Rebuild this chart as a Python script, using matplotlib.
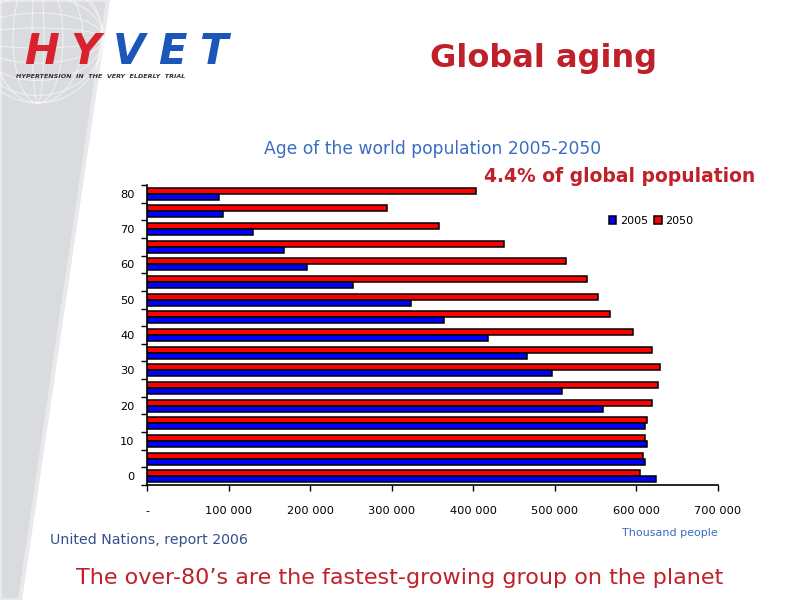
import numpy as np
import matplotlib.pyplot as plt
from matplotlib.patches import Polygon, Ellipse

# age groups 0-4 ... 80+, population in thousands
age_groups = ['0-4', '5-9', '10-14', '15-19', '20-24', '25-29', '30-34', '35-39',
              '40-44', '45-49', '50-54', '55-59', '60-64', '65-69', '70-74', '75-79', '80+']
pop_2005 = [624, 610, 613, 610, 559, 509, 496, 466, 418, 364, 324, 253, 196, 168, 130, 93, 88]
pop_2050 = [604, 608, 611, 613, 619, 627, 629, 619, 596, 568, 553, 540, 514, 438, 358, 294, 403]
ylabels = ['0', '10', '20', '30', '40', '50', '60', '70', '80']
xlabels = ['-', '100 000', '200 000', '300 000', '400 000', '500 000', '600 000', '700 000']

red_txt = '#c0202a'
blue_txt = '#3a6cc4'


def fx(px):
    return px / 800.0


def fy(py):
    return 1 - py / 600.0


fig = plt.figure(figsize=(8, 6), dpi=100)
fig.patch.set_facecolor('white')

# gray slanted strip on the left of the slide
strip = Polygon([(0, 1), (fx(108), 1), (fx(20), 0), (0, 0)], closed=True,
                transform=fig.transFigure, facecolor='#d9dbde', edgecolor='#e8e9eb',
                linewidth=3, zorder=0)
fig.patches.append(strip)

# faint globe behind the logo
for w in [130, 90, 50, 12]:
    e = Ellipse((fx(38), fy(38)), fx(w), 130 / 600.0, transform=fig.transFigure,
                fill=False, edgecolor='white', linewidth=0.8, alpha=0.55, zorder=1)
    fig.patches.append(e)
for hh in [20, 50, 85, 115]:
    e = Ellipse((fx(38), fy(38)), fx(130), hh / 600.0, transform=fig.transFigure,
                fill=False, edgecolor='white', linewidth=0.8, alpha=0.55, zorder=1)
    fig.patches.append(e)

# logo, letter by letter so it is about as wide as the original
logo_letters = ['H', 'Y', 'V', 'E', 'T']
logo_x = [42, 85, 129, 172, 214]
logo_col = ['#d8232f', '#d8232f', '#1c56b8', '#1c56b8', '#1c56b8']
for ch, px, c in zip(logo_letters, logo_x, logo_col):
    fig.text(fx(px), fy(52), ch, color=c, fontsize=30, fontweight='bold',
             style='italic', va='center', ha='center', zorder=3)
fig.text(fx(16), fy(77), 'HYPERTENSION  IN  THE  VERY  ELDERLY  TRIAL', color='#333333',
         fontsize=4.6, fontweight='bold', style='italic', va='center', ha='left', zorder=3)

# slide titles
fig.text(fx(544), fy(58), 'Global aging', color=red_txt, fontsize=23, fontweight='bold',
         ha='center', va='center')
fig.text(fx(433), fy(149), 'Age of the world population 2005-2050', color=blue_txt,
         fontsize=12.3, ha='center', va='center')
fig.text(fx(620), fy(177), '4.4% of global population', color=red_txt, fontsize=13.5,
         fontweight='bold', ha='center', va='center')
fig.text(fx(50), fy(540), 'United Nations, report 2006', color='#34508f', fontsize=10.2,
         ha='left', va='center')
fig.text(fx(718), fy(533), 'Thousand people', color=blue_txt, fontsize=8,
         ha='right', va='center')
fig.text(fx(400), fy(578), "The over-80\u2019s are the fastest-growing group on the planet",
         color=red_txt, fontsize=16, ha='center', va='center')

# chart
ax = fig.add_axes([fx(147), fy(485), (718 - 147) / 800.0, 300 / 600.0])
y = np.arange(len(age_groups))
h = 0.34
ax.barh(y + h / 2, np.array(pop_2050) * 1000, height=h, color='#ff0000',
        edgecolor='black', linewidth=1.1, label='2050')
ax.barh(y - h / 2, np.array(pop_2005) * 1000, height=h, color='#0000ff',
        edgecolor='black', linewidth=1.1, label='2005')

ax.set_xlim(0, 700000)
ax.set_ylim(-0.5, len(age_groups) - 0.5)
ax.set_xticks(np.arange(0, 700001, 100000))
ax.set_xticklabels(xlabels, fontsize=8.2)
ax.set_yticks(np.arange(-0.5, len(age_groups), 1.0))
ax.set_yticklabels([])
ax.set_yticks(np.arange(0, len(age_groups), 2), minor=True)
ax.set_yticklabels(ylabels, minor=True, fontsize=8.2)
ax.tick_params(axis='y', which='minor', length=0, pad=9)
ax.tick_params(axis='y', which='major', length=4, width=1)
ax.tick_params(axis='x', length=4, width=1, pad=11)
for s in ['top', 'right']:
    ax.spines[s].set_visible(False)
ax.spines['left'].set_linewidth(1.2)
ax.spines['bottom'].set_linewidth(1.2)

handles, labels = ax.get_legend_handles_labels()
leg = ax.legend(handles[::-1], labels[::-1], loc='upper right', ncol=2, frameon=False,
                fontsize=8, handlelength=0.7, handleheight=0.7, handletextpad=0.3,
                columnspacing=0.6, bbox_to_anchor=(0.975, 0.93))

fig.savefig('out.png', dpi=100)
